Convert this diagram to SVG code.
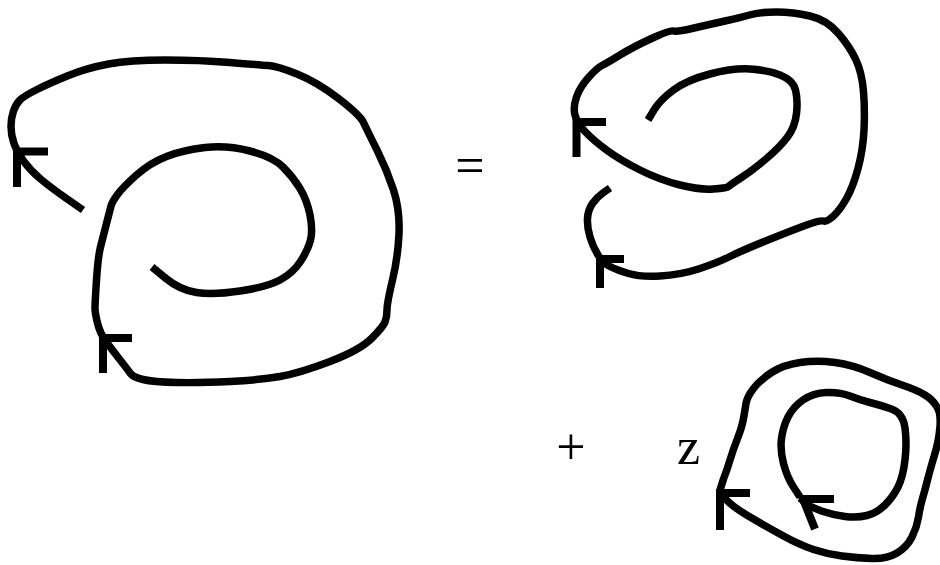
<svg xmlns="http://www.w3.org/2000/svg" width="940" height="565" viewBox="0 0 940 565">
<style>
.c{fill:none;stroke:#000;stroke-width:7.5;stroke-linecap:butt;stroke-linejoin:round}
.a{fill:none;stroke:#000;stroke-width:8;stroke-linecap:butt;stroke-linejoin:miter}
.t{font-family:"Liberation Serif","Times New Roman",serif;font-size:52px;fill:#000;text-anchor:middle}
</style>
<rect width="940" height="565" fill="#fff"/>
<g id="connectors">
<g id="left-curve">
<path class="c" d="M 83 210 L 66.5 198.5 Q 50 187 40 178.5 Q 30 170 23.5 161 Q 17 152 14 143.5 Q 11 135 11 126.5 Q 11 118 13.5 111 Q 16 104 20 100 Q 24 96 37 89.5 Q 50 83 68.5 75.5 Q 87 68 108.5 64 Q 130 60 165 60 Q 200 60 230 62.5 Q 260 65 268.5 65.5 Q 277 66 297 74 Q 317 82 338.5 98.5 Q 360 115 363.5 122.5 Q 367 130 377 150 Q 387 170 393.5 190 Q 400 210 399 233.5 Q 398 257 392.5 280 Q 387 303 387 310 Q 387 317 385 322 Q 383 327 371.5 338.5 Q 360 350 330 361.5 Q 300 373 280 376.5 Q 260 380 230 381.5 Q 200 383 176.5 382.5 Q 153 382 143 379.5 Q 133 377 130.5 373.5 Q 128 370 119 358.5 Q 110 347 105 340 Q 100 333 97.5 323 Q 95 313 95 308 Q 95 303 96.5 280 Q 98 257 100.5 247 Q 103 237 106.5 223.5 Q 110 210 111 206 Q 112 202 117.5 194.5 Q 123 187 136.5 175 Q 150 163 166.5 156.5 Q 183 150 205 147.5 Q 227 145 250 151 Q 273 157 283 167 Q 293 177 300 188.5 Q 307 200 310 215 Q 313 230 310.5 240 Q 308 250 300.5 261.5 Q 293 273 280 280 Q 267 287 240 291 Q 213 295 196.5 292.5 Q 180 290 166 278.5 L 152 267"/>
<path class="a" d="M 17 187 L 17 151.5 L 48 151.5"/>
<path class="a" d="M 103 373 L 103 338 L 132 338"/>
</g>
<g id="right-top-curve">
<path class="c" d="M 648 120 L 654 110 Q 660 100 673.5 90 Q 687 80 710 74 Q 733 68 750 69 Q 767 70 780 75 Q 793 80 795.5 90 Q 798 100 796.5 113.5 Q 795 127 787.5 137 Q 780 147 766.5 158.5 Q 753 170 741.5 177.5 Q 730 185 728.5 186.5 Q 727 188 713.5 189 Q 700 190 680 185 Q 660 180 640 170 Q 620 160 606.5 150 Q 593 140 585 131.5 Q 577 123 575 115 Q 573 107 576.5 97 Q 580 87 588.5 77.5 Q 597 68 602 65.5 Q 607 63 620 55 Q 633 47 651.5 38.5 Q 670 30 673.5 31 Q 677 32 692 28.5 Q 707 25 725 21 Q 743 17 751.5 14.5 Q 760 12 776.5 12 Q 793 12 810 16 Q 827 20 838.5 33.5 Q 850 47 856 60 Q 862 73 863.5 91.5 Q 865 110 864 130 Q 863 150 858 168.5 Q 853 187 846.5 198.5 Q 840 210 833.5 216 Q 827 222 823.5 221 Q 820 220 806.5 225 Q 793 230 768 240 Q 743 250 730 256.5 Q 717 263 698.5 269 Q 680 275 660 276 Q 640 277 628.5 273.5 Q 617 270 610 266.5 Q 603 263 598 255 Q 593 247 590 237 Q 587 227 587.5 218.5 Q 588 210 592.5 203.5 Q 597 197 603.5 192.5 L 610 188"/>
<path class="a" d="M 576.5 157 L 576.5 122 L 606 122"/>
<path class="a" d="M 600 288 L 600 259 L 624 259"/>
</g>
<g id="bottom-right-curves">
<path class="c" d="M 720 490 L 723.5 479 Q 727 470 730 460 Q 733 450 737.5 438.5 Q 742 427 743.5 418.5 Q 745 410 746 403.5 Q 747 397 753.5 388.5 Q 760 380 771.5 372.5 Q 783 365 800 362.5 Q 817 360 835 362.5 Q 853 365 870 372.5 Q 887 380 902 385 Q 917 390 925 395 Q 933 400 937 407 Q 941 413 940 426.5 Q 939 440 934.5 455 Q 930 470 927.5 480 Q 925 490 922.5 498.5 Q 920 507 918.5 517 Q 917 527 912 537 Q 907 547 897 553 Q 887 559 872 558.5 Q 857 558 842 556 Q 827 554 813.5 549.5 Q 800 545 783.5 536 Q 767 527 750 517 Q 733 507 726.5 500 L 720 490"/>
<path class="c" d="M 800 497 L 793.5 487 Q 787 477 783.5 463.5 Q 780 450 781.5 438.5 Q 783 427 788 417 Q 793 407 803 400 Q 813 393 826.5 392.5 Q 840 392 850 396 Q 860 400 870 402.5 Q 880 405 891.5 409 Q 903 413 905 428 Q 907 443 905 460 Q 903 477 898 487 Q 893 497 885 505 Q 877 513 867 515.5 Q 857 518 845 516.5 Q 833 515 821.5 511 Q 810 507 805 502.5 L 800 498"/>
<path class="a" d="M 720 530 L 720 493 L 750 493"/>
<path class="a" d="M 815 529 L 803 499 L 834 499"/>
</g>
</g>
<g id="labels">
<text class="t" x="470" y="183">=</text>
<text class="t" x="571" y="464">+</text>
<text class="t" x="688.5" y="464">z</text>
</g>
</svg>
